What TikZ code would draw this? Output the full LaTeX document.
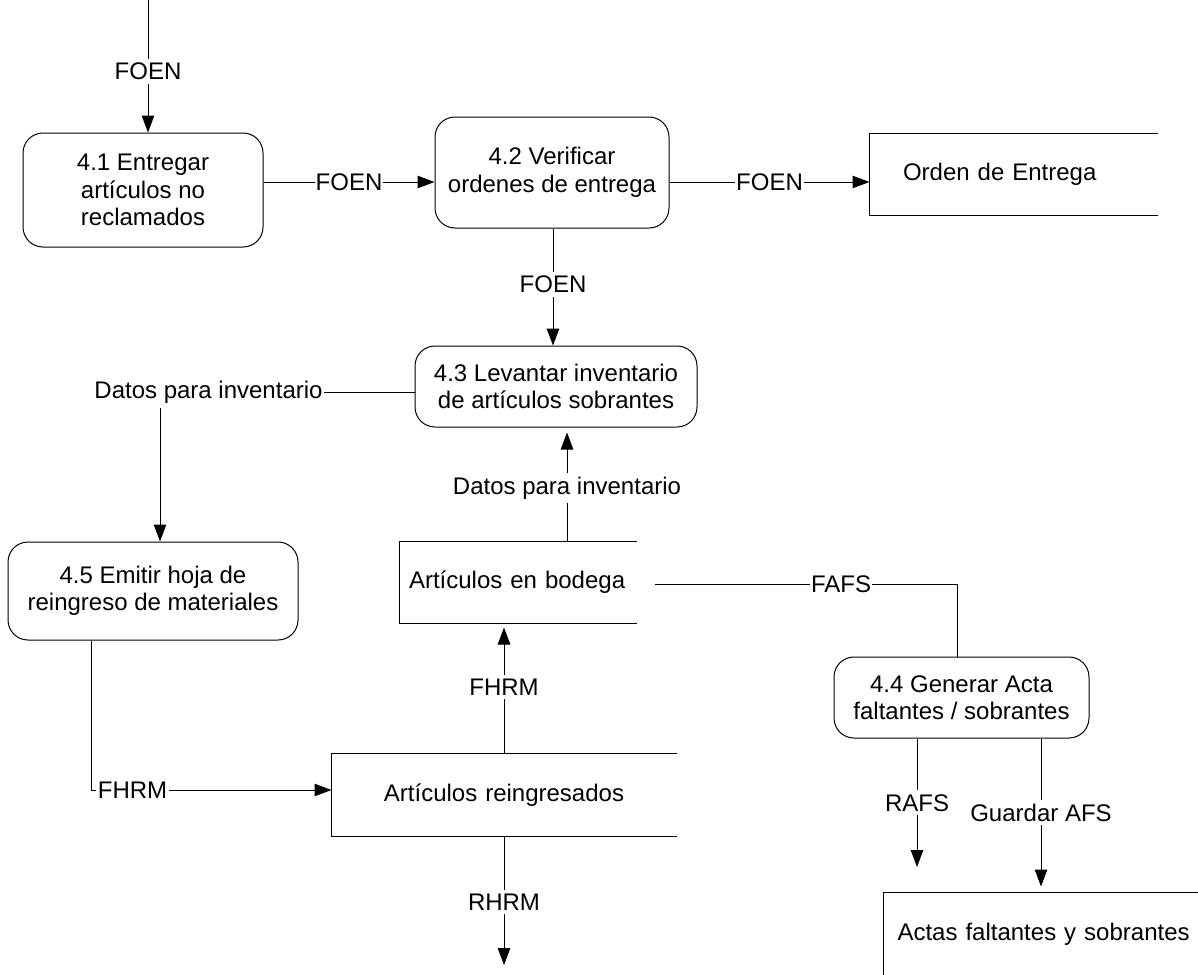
\documentclass[tikz,border=0pt]{standalone}
\usepackage{fontspec}
\setmainfont{Liberation Sans}
\usetikzlibrary{arrows.meta}
\begin{document}
\begin{tikzpicture}[x=1pt,y=-1pt,line width=1pt,
  every node/.style={font=\fontsize{24}{27.5}\selectfont},
  proc/.style={draw, rounded corners=20pt, align=center, inner sep=0pt},
  store/.style={inner ysep=0pt, align=left},
  lbl/.style={fill=white, inner xsep=1pt, inner ysep=4pt},
  flow/.style={line width=1pt},
  arr/.style={flow, -{Triangle[length=17pt,width=12.5pt]}}]
\useasboundingbox (0,0) rectangle (1198,974);
\clip (0,0) rectangle (1198,974);

% processes
\node[proc, minimum width=240pt, minimum height=114pt] (p41) at (143,190) {4.1 Entregar\\artículos no\\reclamados};
\node[proc, minimum width=234pt, minimum height=111pt] (p42) at (552,172.5) {4.2 Verificar\\ordenes de entrega};
\node[proc, minimum width=282pt, minimum height=81pt] (p43) at (556,386.5) {4.3 Levantar inventario\\de artículos sobrantes};
\node[proc, minimum width=255pt, minimum height=81pt] (p44) at (961.5,697.5) {4.4 Generar Acta\\faltantes / sobrantes};
\node[proc, minimum width=290pt, minimum height=98pt] (p45) at (153,591) {4.5 Emitir hoja de\\reingreso de materiales};

% data stores (open on the right)
\node[store, inner xsep=33pt, text width=221pt, minimum height=81pt] (ord) at (1013.5,174.5) {Orden de Entrega};
\node[store, inner xsep=9pt, text width=218pt, minimum height=81pt] (bod) at (518,582.5) {Artículos en bodega};
\node[store, inner xsep=0pt, text width=344pt, align=center, minimum height=82pt] (rei) at (504,795) {Artículos reingresados};
\node[store, inner xsep=14pt, text width=300pt, minimum height=82pt] (act) at (1047.5,934) {Actas faltantes y sobrantes};
\foreach \s in {ord,bod,rei,act}
  \draw (\s.north east) -- (\s.north west) -- (\s.south west) -- (\s.south east);

% helper coordinates
\coordinate (src) at (148,0);
\coordinate (y182) at (0,182);
\coordinate (x553) at (553,0);
\coordinate (x567) at (567,0);
\coordinate (x504) at (504,0);
\coordinate (x160) at (160,0);
\coordinate (x91) at (91,0);
\coordinate (x957) at (957,0);
\coordinate (x1041) at (1041,0);
\coordinate (rhrmEnd) at (504,965);
\coordinate (rafsEnd) at (917,867);
\coordinate (fafsStart) at (655,584);

% flows
\draw[arr] (src) -- node[lbl, pos=0.54] {FOEN} (src |- p41.north);
\draw[arr] (p41.east |- y182) -- node[lbl] {FOEN} (p42.west |- y182);
\draw[arr] (p42.east |- y182) -- node[lbl] {FOEN} (ord.west |- y182);
\draw[arr] (p42.south -| x553) -- node[lbl, pos=0.48] {FOEN} (p43.north -| x553);

\node[lbl] (dpi) at (208.5,392) {Datos para inventario};
\draw[flow] (p43.west |- dpi) -- (dpi.east);
\draw[arr] (dpi.south -| x160) -- (p45.north -| x160);

\draw[arr, shorten >=5pt] (bod.north -| x567) -- node[lbl, pos=0.47] {Datos para inventario} (p43.south -| x567);
\draw[arr, shorten >=4pt] (rei.north -| x504) -- node[lbl, pos=0.51] {FHRM} (bod.south -| x504);

\node[lbl] (fh) at (132.5,790) {FHRM};
\draw[flow] (p45.south -| x91) |- (fh.west);
\draw[arr] (fh.east) -- (rei.west |- fh);

\draw[arr] (rei.south -| rhrmEnd) -- node[lbl, pos=0.51] {RHRM} (rhrmEnd);

\draw[flow] (fafsStart) -| node[lbl, pos=0.308] {FAFS} (p44.north -| x957);
\draw[arr] (p44.south -| rafsEnd) -- node[lbl, pos=0.5] {RAFS} (rafsEnd);
\draw[arr, shorten >=6pt] (p44.south -| x1041) -- node[lbl, pos=0.48] {Guardar AFS} (act.north -| x1041);
\end{tikzpicture}
\end{document}
